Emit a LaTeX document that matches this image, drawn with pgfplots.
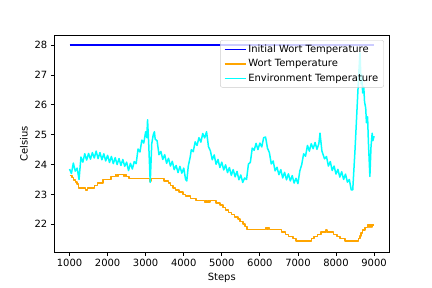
\documentclass[border=0pt]{standalone}
\usepackage{fontspec}
\setmainfont{DejaVu Sans}
\usepackage{pgfplots}
\pgfplotsset{compat=1.18}
\definecolor{mplorange}{RGB}{255,165,0}
\definecolor{mplblue}{RGB}{0,0,255}
\definecolor{mplcyan}{RGB}{0,255,255}
\definecolor{legedge}{RGB}{204,204,204}
\begin{document}
\begin{tikzpicture}
\useasboundingbox (-54.3bp,-36bp) rectangle (377.7bp,252bp);
\begin{axis}[
  at={(0bp,0bp)}, anchor=south west,
  scale only axis, width=335bp, height=216.7bp,
  xmin=600, xmax=9400, ymin=21.07, ymax=28.33,
  xtick={1000,2000,...,9000}, ytick={22,23,...,28},
  tick align=outside, xtick pos=bottom, ytick pos=left,
  major tick length=3.5bp,
  every tick/.style={black, line width=0.8bp},
  axis line style={line width=0.8bp},
  tick label style={font=\fontsize{10}{12}\selectfont},
  label style={font=\fontsize{10}{12}\selectfont},
  /pgf/number format/assume math mode=true,
  /pgf/number format/set thousands separator={},
  xlabel={Steps}, ylabel={Celsius},
  legend style={at={(0.984,0.978)}, anchor=north east, fill=white, fill opacity=0.8, text opacity=1, draw=legedge, rounded corners=2pt, font=\fontsize{10}{12}\selectfont, row sep=1.6bp, inner xsep=3.5bp, inner ysep=2.5bp},
  legend cell align=left,
  legend image code/.code={\draw[#1, line width=1.5bp] (0bp,0bp) -- (21bp,0bp);},
]
\addplot[mplblue, line width=1.5bp] coordinates {(1000,28) (9000,28)};
\addlegendentry{Initial Wort Temperature}
\addplot[mplorange, line width=1.5bp, line join=round] coordinates {
(1000,23.64)(1060,23.64)(1060,23.57)(1110,23.57)(1110,23.49)(1160,23.49)(1160,23.41)(1200,23.41)(1200,23.34)(1240,23.34)(1240,23.21)
(1420,23.21)(1420,23.14)(1470,23.14)(1470,23.21)(1650,23.21)(1650,23.3)(1740,23.3)(1740,23.38)(1880,23.38)(1880,23.5)(2090,23.5)(2090,23.6)(2210,23.6)(2210,23.67)
(2240,23.67)(2240,23.6)(2260,23.6)(2260,23.67)(2280,23.67)(2280,23.6)(2290,23.6)(2290,23.67)
(2430,23.67)(2430,23.6)(2450,23.6)(2450,23.67)(2470,23.67)(2470,23.6)(2480,23.6)(2480,23.67)
(2500,23.67)(2500,23.6)(2560,23.6)(2560,23.53)(3100,23.53)(3100,23.45)(3140,23.45)(3140,23.53)
(3480,23.53)(3480,23.45)(3600,23.45)(3600,23.38)(3650,23.38)(3650,23.3)(3720,23.3)(3720,23.22)(3790,23.22)(3790,23.15)(3880,23.15)(3880,23.08)(3980,23.08)(3980,23.0)(4050,23.0)(4050,22.94)(4180,22.94)(4180,22.86)(4320,22.86)(4320,22.8)
(4550,22.8)(4550,22.74)(4570,22.74)(4570,22.8)(4590,22.8)(4590,22.74)(4610,22.74)(4610,22.8)(4630,22.8)(4630,22.74)(4650,22.74)(4650,22.8)(4670,22.8)(4670,22.74)(4690,22.74)(4690,22.8)
(4850,22.8)(4850,22.72)(4950,22.72)(4950,22.64)(5030,22.64)(5030,22.56)(5100,22.56)(5100,22.48)(5180,22.48)(5180,22.4)(5260,22.4)(5260,22.33)(5330,22.33)(5330,22.25)(5420,22.25)(5420,22.17)(5480,22.17)(5480,22.09)(5560,22.09)(5560,22.0)(5610,22.0)(5610,21.93)(5660,21.93)(5660,21.82)
(6150,21.82)(6150,21.88)(6170,21.88)(6170,21.82)(6190,21.82)(6190,21.88)(6210,21.88)(6210,21.82)(6230,21.82)(6230,21.88)(6250,21.88)(6250,21.82)
(6570,21.82)(6570,21.74)(6680,21.74)(6680,21.66)(6750,21.66)(6750,21.59)(6870,21.59)(6870,21.52)(6950,21.52)(6950,21.44)(7350,21.44)(7350,21.52)(7420,21.52)(7420,21.59)(7520,21.59)(7520,21.66)(7600,21.66)(7600,21.74)
(7740,21.74)(7740,21.81)(7770,21.81)(7770,21.74)
(7940,21.74)(7940,21.66)(8020,21.66)(8020,21.59)(8100,21.59)(8100,21.52)(8230,21.52)(8230,21.44)(8590,21.44)(8590,21.52)(8630,21.52)(8630,21.6)(8660,21.6)(8660,21.7)(8700,21.7)(8700,21.8)(8760,21.8)(8760,21.89)(8830,21.89)(8830,21.97)
(8850,21.97)(8850,21.91)(8870,21.91)(8870,21.97)(8890,21.97)(8890,21.91)(8910,21.91)(8910,21.97)(8930,21.97)(8930,21.91)(8950,21.91)(8950,21.97)(9000,21.97)
};
\addlegendentry{Wort Temperature}
\addplot[mplcyan, line width=1.5bp, line join=round] coordinates {
(1000,23.85)(1050,23.7)(1100,24.05)(1150,23.78)(1200,23.88)(1250,23.5)(1300,24.25)(1350,24.08)(1400,24.36)(1450,24.15)
(1500,24.37)(1550,24.18)(1600,24.4)(1650,24.22)(1700,24.45)(1750,24.2)(1800,24.4)(1850,24.16)(1900,24.36)(1950,24.12)
(2000,24.31)(2050,24.07)(2100,24.27)(2150,24.03)(2200,24.23)(2250,24.0)(2300,24.2)(2350,23.97)(2400,24.17)(2450,23.94)
(2500,24.08)(2550,23.8)(2600,24.04)(2650,23.85)(2700,24.1)(2750,24.03)(2800,24.52)(2850,24.42)(2900,24.82)(2950,24.72)
(3000,25.1)(3030,24.9)(3050,25.5)(3080,24.7)(3120,23.4)(3160,24.7)(3200,25.0)(3230,25.1)(3250,24.85)(3300,24.8)
(3350,24.33)(3400,24.44)(3450,24.17)(3500,24.33)(3550,24.04)(3600,24.21)(3650,23.95)(3700,24.11)(3750,23.83)(3800,23.97)
(3850,23.73)(3900,23.94)(3950,23.71)(4000,23.88)(4050,23.5)(4080,23.45)(4120,23.95)(4170,24.25)(4200,24.5)(4250,24.43)
(4300,24.76)(4350,24.64)(4400,24.9)(4450,24.75)(4500,25.04)(4550,24.89)(4600,25.1)(4650,24.6)(4700,24.46)(4750,24.16)
(4800,24.32)(4850,24.01)(4900,24.17)(4950,23.9)(5000,24.08)(5050,23.82)(5100,23.99)(5150,23.73)(5200,23.9)(5250,23.64)
(5300,23.83)(5350,23.59)(5400,23.77)(5450,23.49)(5500,23.65)(5550,23.4)(5600,23.55)(5650,23.5)(5700,24.02)(5750,24.07)
(5800,24.55)(5850,24.48)(5900,24.71)(5950,24.5)(6000,24.72)(6050,24.59)(6100,24.9)(6150,24.92)(6200,24.55)(6250,24.4)
(6300,24.02)(6350,24.12)(6400,23.79)(6450,23.91)(6500,23.66)(6550,23.83)(6600,23.55)(6650,23.74)(6700,23.49)(6750,23.69)
(6800,23.45)(6850,23.63)(6900,23.38)(6950,23.54)(7000,23.36)(7050,23.79)(7100,24.0)(7150,24.36)(7200,24.28)(7250,24.64)
(7300,24.45)(7350,24.7)(7400,24.53)(7450,24.74)(7500,24.51)(7550,24.7)(7580,25.05)(7630,24.45)(7700,24.19)(7750,24.27)
(7800,23.95)(7850,24.1)(7900,23.8)(7950,23.95)(8000,23.68)(8050,23.84)(8100,23.58)(8150,23.76)(8200,23.5)(8250,23.68)
(8300,23.41)(8350,23.5)(8400,23.15)(8440,23.15)(8500,24.5)(8550,25.8)(8600,27.1)(8630,27.75)(8660,26.7)(8680,27.0)
(8700,26.4)(8730,26.6)(8750,26.1)(8780,25.9)(8800,25.4)(8830,25.6)(8850,24.8)(8890,23.6)(8920,24.6)(8950,25.05)
(8970,24.8)(9000,24.95)
};
\addlegendentry{Environment Temperature}
\end{axis}
\end{tikzpicture}
\end{document}
